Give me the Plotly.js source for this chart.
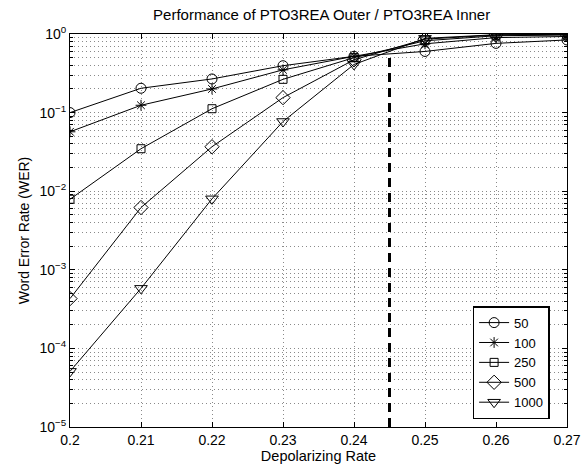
<!DOCTYPE html>
<html>
<head>
<meta charset="utf-8">
<script src="https://cdn.plot.ly/plotly-3.0.1.min.js"></script>
<style>html,body{margin:0;padding:0;background:#fff;}#chart{width:588px;height:466px;}</style>
</head>
<body>
<div id="chart"></div>
<script>
// Data
const depolRate = [0.2, 0.21, 0.22, 0.23, 0.24, 0.25, 0.26, 0.27];
const seriesNames = ['50', '100', '250', '500', '1000'];
const wer50   = [0.1, 0.204, 0.268, 0.395, 0.52, 0.6, 0.76, 0.84];
const wer100  = [0.057, 0.124, 0.2, 0.35, 0.52, 0.75, 0.9, 0.93];
const wer250  = [0.0079, 0.0347, 0.112, 0.265, 0.5, 0.82, 0.95, 0.97];
const wer500  = [0.00043, 0.0062, 0.0368, 0.155, 0.47, 0.86, 0.97, 0.985];
const wer1000 = [0.000051, 0.00058, 0.008, 0.077, 0.41, 0.88, 0.98, 0.99];
const thresholdX = [0.245, 0.245];
const thresholdY = [0.00001, 0.495];
const xTickVals = [0.2, 0.21, 0.22, 0.23, 0.24, 0.25, 0.26, 0.27];
const xTickText = ['0.2', '0.21', '0.22', '0.23', '0.24', '0.25', '0.26', '0.27'];
const yExponents = [-5, -4, -3, -2, -1, 0];

const allSeries = [wer50, wer100, wer250, wer500, wer1000];
const symbols = ['circle-open', 'asterisk-open', 'square-open', 'diamond-open', 'triangle-down-open'];
const sizes = [10, 9, 8, 11, 11];

const yTickVals = yExponents.map(e => Math.pow(10, e));
const yTickText = yExponents.map(e => '10<sup>' + (e < 0 ? '\u2212' + (-e) : e) + '</sup>');
const yMinorVals = [];
yExponents.slice(0, -1).forEach(e => { for (let m = 2; m <= 9; m++) yMinorVals.push(m * Math.pow(10, e)); });

const traces = allSeries.map((s, i) => ({
  x: depolRate, y: s, name: seriesNames[i], type: 'scatter', mode: 'lines+markers',
  line: {color: '#000', width: 1},
  marker: {symbol: symbols[i], size: sizes[i], color: '#000', line: {color: '#000', width: 1}}
}));
traces.push({
  x: thresholdX, y: thresholdY, type: 'scatter', mode: 'lines', showlegend: false,
  line: {color: '#000', width: 3, dash: '9px,6px'}, hoverinfo: 'skip'
});

const fam = 'Liberation Sans, Arial, sans-serif';
const font = {family: fam, size: 14, color: '#000'};
const gridCol = '#8a8a8a';
const layout = {
  width: 588, height: 466,
  margin: {l: 70, r: 21, t: 34, b: 39},
  paper_bgcolor: '#fff', plot_bgcolor: '#fff',
  font: font,
  showlegend: true,
  title: {text: 'Performance of PTO3REA Outer / PTO3REA Inner', x: 0.547, xanchor: 'center', y: 0.968, yanchor: 'middle', font: {family: fam, size: 15, color: '#000'}},
  xaxis: {
    range: [0.2, 0.27], tickmode: 'array', tickvals: xTickVals, ticktext: xTickText,
    ticks: 'inside', ticklen: 5, tickcolor: '#000', showline: true, linecolor: '#000', linewidth: 1,
    mirror: 'allticks', showgrid: true, gridcolor: gridCol, gridwidth: 1, griddash: '1px,3px', zeroline: false,
    tickfont: {family: fam, size: 14, color: '#000'},
    title: {text: 'Depolarizing Rate', standoff: 3, font: {family: fam, size: 14.5, color: '#000'}}
  },
  yaxis: {
    type: 'log', range: [-5, 0], tickmode: 'array', tickvals: yTickVals, ticktext: yTickText,
    ticks: 'inside', ticklen: 5, tickcolor: '#000', showline: true, linecolor: '#000', linewidth: 1,
    mirror: 'allticks', showgrid: true, gridcolor: gridCol, gridwidth: 1, griddash: '1px,3px', zeroline: false,
    tickfont: {family: fam, size: 14, color: '#000'},
    minor: {tickmode: 'array', tickvals: yMinorVals, ticks: 'inside', ticklen: 3, tickcolor: '#000', showgrid: true, gridcolor: gridCol, gridwidth: 1, griddash: '1px,3px'},
    title: {text: 'Word Error Rate (WER)', standoff: 6, font: {family: fam, size: 14, color: '#000'}}
  },
  legend: {
    x: 0.965, xanchor: 'right', y: 0.02, yanchor: 'bottom',
    bgcolor: '#fff', bordercolor: '#000', borderwidth: 1.5,
    font: {family: fam, size: 13, color: '#000'},
    tracegroupgap: 0, itemwidth: 30
  }
};
Plotly.newPlot('chart', traces, layout, {staticPlot: true, displayModeBar: false});
</script>
</body>
</html>
